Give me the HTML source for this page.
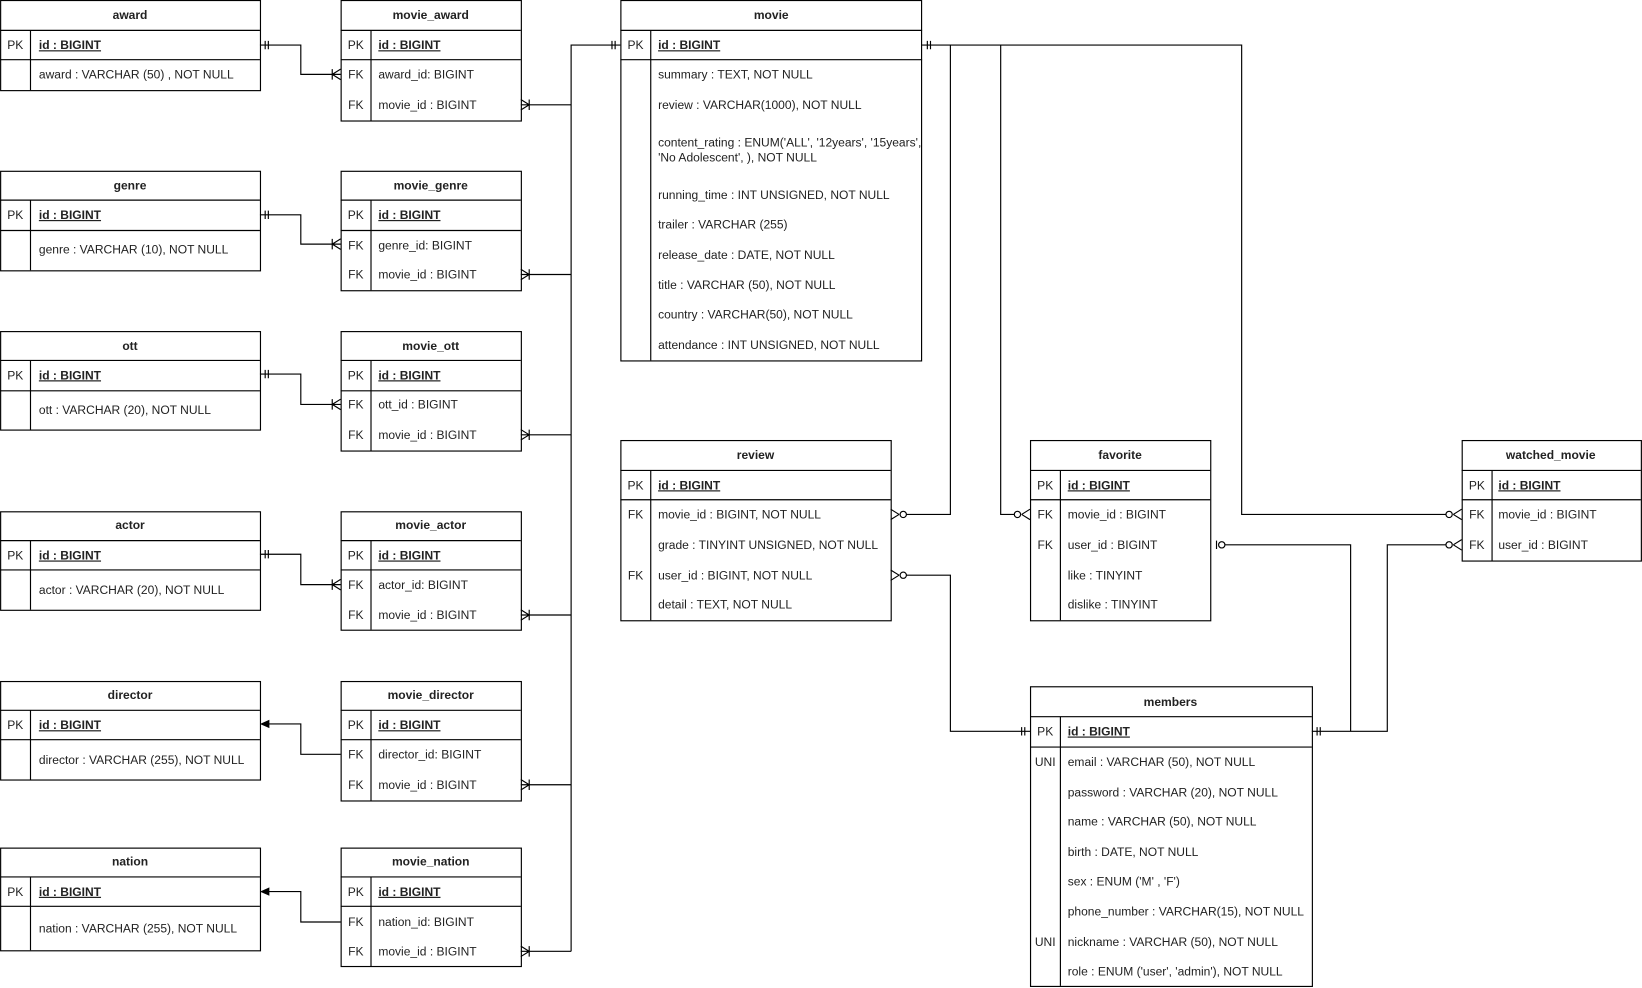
<!DOCTYPE html>
<html><head><meta charset="utf-8"><style>
html,body{margin:0;padding:0;background:#fff;}
svg{display:block;}
text{font-family:"Liberation Sans",Arial,sans-serif;font-size:11.5px;fill:#222;}
.h{font-weight:bold;text-anchor:middle;}
.k{text-anchor:middle;}
.u{text-decoration:underline;font-weight:bold;}
.b{fill:#fff;stroke:#000;stroke-width:1.1;}
.l{fill:none;stroke:#000;stroke-width:1.1;}
</style></head><body>
<svg width="1642" height="988" viewBox="0 0 1567 943" xmlns="http://www.w3.org/2000/svg">
<!-- award -->
<rect class="b" x="0.5" y="0.5" width="248" height="86"/>
<path class="l" d="M0 29H248M0 57H248M29 29V86"/>
<text class="h" x="124" y="18">award</text>
<text class="k" x="14.5" y="47">PK</text><text class="u" x="37" y="47">id : BIGINT</text>
<text x="37" y="75">award : VARCHAR (50) , NOT NULL</text>

<!-- movie_award -->
<rect class="b" x="325.5" y="0.5" width="172" height="115"/>
<path class="l" d="M325 29H497M325 57H497M354 29V115"/>
<text class="h" x="411" y="18">movie_award</text>
<text class="k" x="339.5" y="47">PK</text><text class="u" x="361" y="47">id : BIGINT</text>
<text class="k" x="339.5" y="75">FK</text><text x="361" y="75">award_id: BIGINT</text>
<text class="k" x="339.5" y="104">FK</text><text x="361" y="104">movie_id : BIGINT</text>

<!-- genre -->
<rect class="b" x="0.5" y="163.5" width="248" height="95"/>
<path class="l" d="M0 191H248M0 220H248M29 191V258"/>
<text class="h" x="124" y="181">genre</text>
<text class="k" x="14.5" y="209">PK</text><text class="u" x="37" y="209">id : BIGINT</text>
<text x="37" y="242">genre : VARCHAR (10), NOT NULL</text>

<!-- movie_genre -->
<rect class="b" x="325.5" y="163.5" width="172" height="114"/>
<path class="l" d="M325 191H497M325 220H497M354 191V277"/>
<text class="h" x="411" y="181">movie_genre</text>
<text class="k" x="339.5" y="209">PK</text><text class="u" x="361" y="209">id : BIGINT</text>
<text class="k" x="339.5" y="238">FK</text><text x="361" y="238">genre_id: BIGINT</text>
<text class="k" x="339.5" y="266">FK</text><text x="361" y="266">movie_id : BIGINT</text>

<!-- ott -->
<rect class="b" x="0.5" y="316.5" width="248" height="94"/>
<path class="l" d="M0 344H248M0 373H248M29 344V410"/>
<text class="h" x="124" y="334">ott</text>
<text class="k" x="14.5" y="362">PK</text><text class="u" x="37" y="362">id : BIGINT</text>
<text x="37" y="395">ott : VARCHAR (20), NOT NULL</text>

<!-- movie_ott -->
<rect class="b" x="325.5" y="316.5" width="172" height="114"/>
<path class="l" d="M325 344H497M325 373H497M354 344V430"/>
<text class="h" x="411" y="334">movie_ott</text>
<text class="k" x="339.5" y="362">PK</text><text class="u" x="361" y="362">id : BIGINT</text>
<text class="k" x="339.5" y="390">FK</text><text x="361" y="390">ott_id : BIGINT</text>
<text class="k" x="339.5" y="419">FK</text><text x="361" y="419">movie_id : BIGINT</text>

<!-- actor -->
<rect class="b" x="0.5" y="488.5" width="248" height="94"/>
<path class="l" d="M0 516H248M0 544H248M29 516V582"/>
<text class="h" x="124" y="505">actor</text>
<text class="k" x="14.5" y="534">PK</text><text class="u" x="37" y="534">id : BIGINT</text>
<text x="37" y="567">actor : VARCHAR (20), NOT NULL</text>

<!-- movie_actor -->
<rect class="b" x="325.5" y="488.5" width="172" height="113"/>
<path class="l" d="M325 516H497M325 544H497M354 516V601"/>
<text class="h" x="411" y="505">movie_actor</text>
<text class="k" x="339.5" y="534">PK</text><text class="u" x="361" y="534">id : BIGINT</text>
<text class="k" x="339.5" y="562">FK</text><text x="361" y="562">actor_id: BIGINT</text>
<text class="k" x="339.5" y="591">FK</text><text x="361" y="591">movie_id : BIGINT</text>

<!-- director -->
<rect class="b" x="0.5" y="650.5" width="248" height="94"/>
<path class="l" d="M0 678H248M0 706H248M29 678V744"/>
<text class="h" x="124" y="667">director</text>
<text class="k" x="14.5" y="696">PK</text><text class="u" x="37" y="696">id : BIGINT</text>
<text x="37" y="729">director : VARCHAR (255), NOT NULL</text>

<!-- movie_director -->
<rect class="b" x="325.5" y="650.5" width="172" height="114"/>
<path class="l" d="M325 678H497M325 706H497M354 678V764"/>
<text class="h" x="411" y="667">movie_director</text>
<text class="k" x="339.5" y="696">PK</text><text class="u" x="361" y="696">id : BIGINT</text>
<text class="k" x="339.5" y="724">FK</text><text x="361" y="724">director_id: BIGINT</text>
<text class="k" x="339.5" y="753">FK</text><text x="361" y="753">movie_id : BIGINT</text>

<!-- nation -->
<rect class="b" x="0.5" y="809.5" width="248" height="98"/>
<path class="l" d="M0 837H248M0 865H248M29 837V907"/>
<text class="h" x="124" y="826">nation</text>
<text class="k" x="14.5" y="855">PK</text><text class="u" x="37" y="855">id : BIGINT</text>
<text x="37" y="890">nation : VARCHAR (255), NOT NULL</text>

<!-- movie_nation -->
<rect class="b" x="325.5" y="809.5" width="172" height="113"/>
<path class="l" d="M325 837H497M325 865H497M354 837V922"/>
<text class="h" x="411" y="826">movie_nation</text>
<text class="k" x="339.5" y="855">PK</text><text class="u" x="361" y="855">id : BIGINT</text>
<text class="k" x="339.5" y="884">FK</text><text x="361" y="884">nation_id: BIGINT</text>
<text class="k" x="339.5" y="912">FK</text><text x="361" y="912">movie_id : BIGINT</text>

<!-- movie -->
<rect class="b" x="592.5" y="0.5" width="287" height="344"/>
<path class="l" d="M592 29H880M592 57H880M621 29V344"/>
<text class="h" x="736" y="18">movie</text>
<text class="k" x="606.5" y="47">PK</text><text class="u" x="628" y="47">id : BIGINT</text>
<text x="628" y="75">summary : TEXT, NOT NULL</text>
<text x="628" y="104">review : VARCHAR(1000), NOT NULL</text>
<text x="628" y="140">content_rating : ENUM('ALL', '12years', '15years',</text>
<text x="628" y="154">'No Adolescent', ), NOT NULL</text>
<text x="628" y="190">running_time : INT UNSIGNED, NOT NULL</text>
<text x="628" y="218">trailer : VARCHAR (255)</text>
<text x="628" y="247">release_date : DATE, NOT NULL</text>
<text x="628" y="276">title : VARCHAR (50), NOT NULL</text>
<text x="628" y="304">country : VARCHAR(50), NOT NULL</text>
<text x="628" y="333">attendance : INT UNSIGNED, NOT NULL</text>

<!-- review -->
<rect class="b" x="592.5" y="420.5" width="258" height="172"/>
<path class="l" d="M592 449H850M592 477H850M621 449V592"/>
<text class="h" x="721" y="438">review</text>
<text class="k" x="606.5" y="467">PK</text><text class="u" x="628" y="467">id : BIGINT</text>
<text class="k" x="606.5" y="495">FK</text><text x="628" y="495">movie_id : BIGINT, NOT NULL</text>
<text x="628" y="524">grade : TINYINT UNSIGNED, NOT NULL</text>
<text class="k" x="606.5" y="553">FK</text><text x="628" y="553">user_id : BIGINT, NOT NULL</text>
<text x="628" y="581">detail : TEXT, NOT NULL</text>

<!-- favorite -->
<rect class="b" x="983.5" y="420.5" width="172" height="172"/>
<path class="l" d="M983 449H1155M983 477H1155M1012 449V592"/>
<text class="h" x="1069" y="438">favorite</text>
<text class="k" x="997.5" y="467">PK</text><text class="u" x="1019" y="467">id : BIGINT</text>
<text class="k" x="997.5" y="495">FK</text><text x="1019" y="495">movie_id : BIGINT</text>
<text class="k" x="997.5" y="524">FK</text><text x="1019" y="524">user_id : BIGINT</text>
<text x="1019" y="553">like :  TINYINT</text>
<text x="1019" y="581">dislike : TINYINT</text>

<!-- watched_movie -->
<rect class="b" x="1395.5" y="420.5" width="171" height="115"/>
<path class="l" d="M1395 449H1566M1395 477H1566M1424 449V535"/>
<text class="h" x="1480" y="438">watched_movie</text>
<text class="k" x="1409.5" y="467">PK</text><text class="u" x="1430" y="467">id : BIGINT</text>
<text class="k" x="1409.5" y="495">FK</text><text x="1430" y="495">movie_id : BIGINT</text>
<text class="k" x="1409.5" y="524">FK</text><text x="1430" y="524">user_id : BIGINT</text>

<!-- members -->
<rect class="b" x="983.5" y="655.5" width="269" height="286"/>
<path class="l" d="M983 684H1252M983 713H1252M1012 684V941"/>
<text class="h" x="1117" y="674">members</text>
<text class="k" x="997.5" y="702">PK</text><text class="u" x="1019" y="702">id : BIGINT</text>
<text class="k" x="997.5" y="731">UNI</text><text x="1019" y="731">email : VARCHAR (50), NOT NULL</text>
<text x="1019" y="760">password : VARCHAR (20), NOT NULL</text>
<text x="1019" y="788">name : VARCHAR (50), NOT NULL</text>
<text x="1019" y="817">birth : DATE, NOT NULL</text>
<text x="1019" y="845">sex : ENUM ('M' , 'F')</text>
<text x="1019" y="874">phone_number : VARCHAR(15), NOT NULL</text>
<text class="k" x="997.5" y="903">UNI</text><text x="1019" y="903">nickname : VARCHAR (50), NOT NULL</text>
<text x="1019" y="931">role : ENUM ('user', 'admin'), NOT NULL</text>

<!-- connectors: lookup tables -->
<path class="l" d="M248 43H287V71H325 M253 39v8M256 39v8 M317 71L325 66M317 71L325 76M317 66v10"/>
<path class="l" d="M248 205H287V233H325 M253 201v8M256 201v8 M317 233L325 228M317 233L325 238M317 228v10"/>
<path class="l" d="M248 357H287V386H325 M253 353v8M256 353v8 M317 386L325 381M317 386L325 391M317 381v10"/>
<path class="l" d="M248 529H287V558H325 M253 525v8M256 525v8 M317 558L325 553M317 558L325 563M317 553v10"/>
<path class="l" d="M256 691H287V720H325"/>
<path d="M248 691L257 687V695Z" fill="#000"/>
<path class="l" d="M256 851H287V880H325"/>
<path d="M248 851L257 847V855Z" fill="#000"/>

<!-- movie_id trunk -->
<path class="l" d="M545 908V43H592 M584 39v8M587 39v8"/>
<path class="l" d="M497 100H545 M505 100L497 95M505 100L497 105M505 95v10"/>
<path class="l" d="M497 262H545 M505 262L497 257M505 262L497 267M505 257v10"/>
<path class="l" d="M497 415H545 M505 415L497 410M505 415L497 420M505 410v10"/>
<path class="l" d="M497 587H545 M505 587L497 582M505 587L497 592M505 582v10"/>
<path class="l" d="M497 749H545 M505 749L497 744M505 749L497 754M505 744v10"/>
<path class="l" d="M497 908H545 M505 908L497 903M505 908L497 913M505 903v10"/>

<!-- movie PK right -->
<path class="l" d="M880 43H1185V491H1380 M885 39v8M888 39v8"/>
<path class="l" d="M907 43V491H865 M858 491L850 486M858 491L850 496"/>
<circle class="l" cx="862" cy="491" r="3"/>
<path class="l" d="M955 43V491H968 M975 491L983 486M975 491L983 496"/>
<circle class="l" cx="971" cy="491" r="3"/>
<path class="l" d="M1387 491L1395 486M1387 491L1395 496"/>
<circle class="l" cx="1383" cy="491" r="3"/>

<!-- review user -> members -->
<path class="l" d="M865 549H907V698H983 M858 549L850 544M858 549L850 554 M975 694v8M978 694v8"/>
<circle class="l" cx="862" cy="549" r="3"/>

<!-- members -> favorite / watched -->
<path class="l" d="M1252 698H1324V520H1380 M1289 698V520H1169 M1257 694v8M1260 694v8 M1161 516v8"/>
<circle class="l" cx="1166" cy="520" r="3"/>
<path class="l" d="M1387 520L1395 515M1387 520L1395 525"/>
<circle class="l" cx="1383" cy="520" r="3"/>
</svg>
</body></html>
